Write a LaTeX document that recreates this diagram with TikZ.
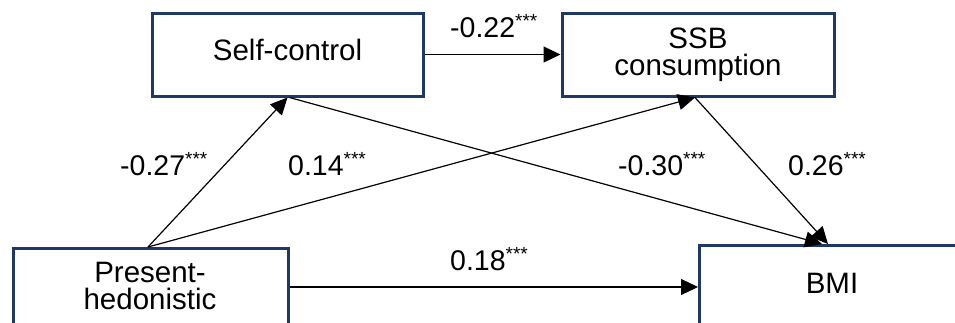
\documentclass[tikz,border=0pt]{standalone}
\usepackage{fontspec}
\setmainfont{Liberation Sans}
\usetikzlibrary{arrows.meta,calc}
\definecolor{navy}{HTML}{1F3864}
\newcommand{\sigstars}{\raisebox{9.5pt}{\fontsize{19}{19}\selectfont ***}}
\tikzset{
  box/.style={draw=navy, line width=3pt, rectangle, inner sep=0pt},
  boxtext/.style={font=\fontsize{29.5}{27}\selectfont, align=center, inner sep=0pt},
  coef/.style={font=\fontsize{28.5}{30}\selectfont, anchor=base west, inner sep=0pt},
  path/.style={draw=black, line width=1.2pt, -{Triangle[length=17pt,width=16pt]}}
}
\begin{document}
\begin{tikzpicture}[x=1pt,y=-1pt]
\clip (0,0) rectangle (955,322);
\fill[white] (0,0) rectangle (955,322);
% boxes
\node[box, boxtext, minimum width=271pt, minimum height=83pt, text depth=10pt] (sc) at (287.5,54.5) {Self-control};
\node[box, boxtext, minimum width=272pt, minimum height=83pt] (ssb) at (698,54.5) {SSB\\consumption};
\node[box, minimum width=275pt, minimum height=120pt, anchor=north west] (ph) at (12,247) {};
\node[boxtext] (phtext) at (150,286) {Present-\\hedonistic};
\node[box, minimum width=300pt, minimum height=120pt, anchor=north west] (bmi) at (698,244) {};
\node[boxtext] (bmitext) at (832,283) {BMI};
\coordinate (bmiin1) at (822,244);
\coordinate (bmiin2) at (828,244);
% paths
\draw[path] (sc.east) -- (ssb.west);
\draw[path] (ph.north -| 148,0) -- (sc.south);
\draw[path] (ph.north -| 148,0) -- ($(ssb.south)+(-3,0)$);
\draw[path] ($(sc.south)+(2,0)$) -- (bmiin1);
\draw[path] ($(ssb.south)+(-3,0)$) -- (bmiin2);
\draw[path] ($(ph.north east)+(0,40)$) -- ($(bmi.north west)+(0,43)$);
% coefficients
\node[coef] (c1) at (450,37) {-0.22\sigstars};
\node[coef] (c2) at (120,175) {-0.27\sigstars};
\node[coef] (c3) at (288,175) {0.14\sigstars};
\node[coef] (c4) at (618,175) {-0.30\sigstars};
\node[coef] (c5) at (788,175) {0.26\sigstars};
\node[coef] (c6) at (450,270) {0.18\sigstars};
\end{tikzpicture}
\end{document}
